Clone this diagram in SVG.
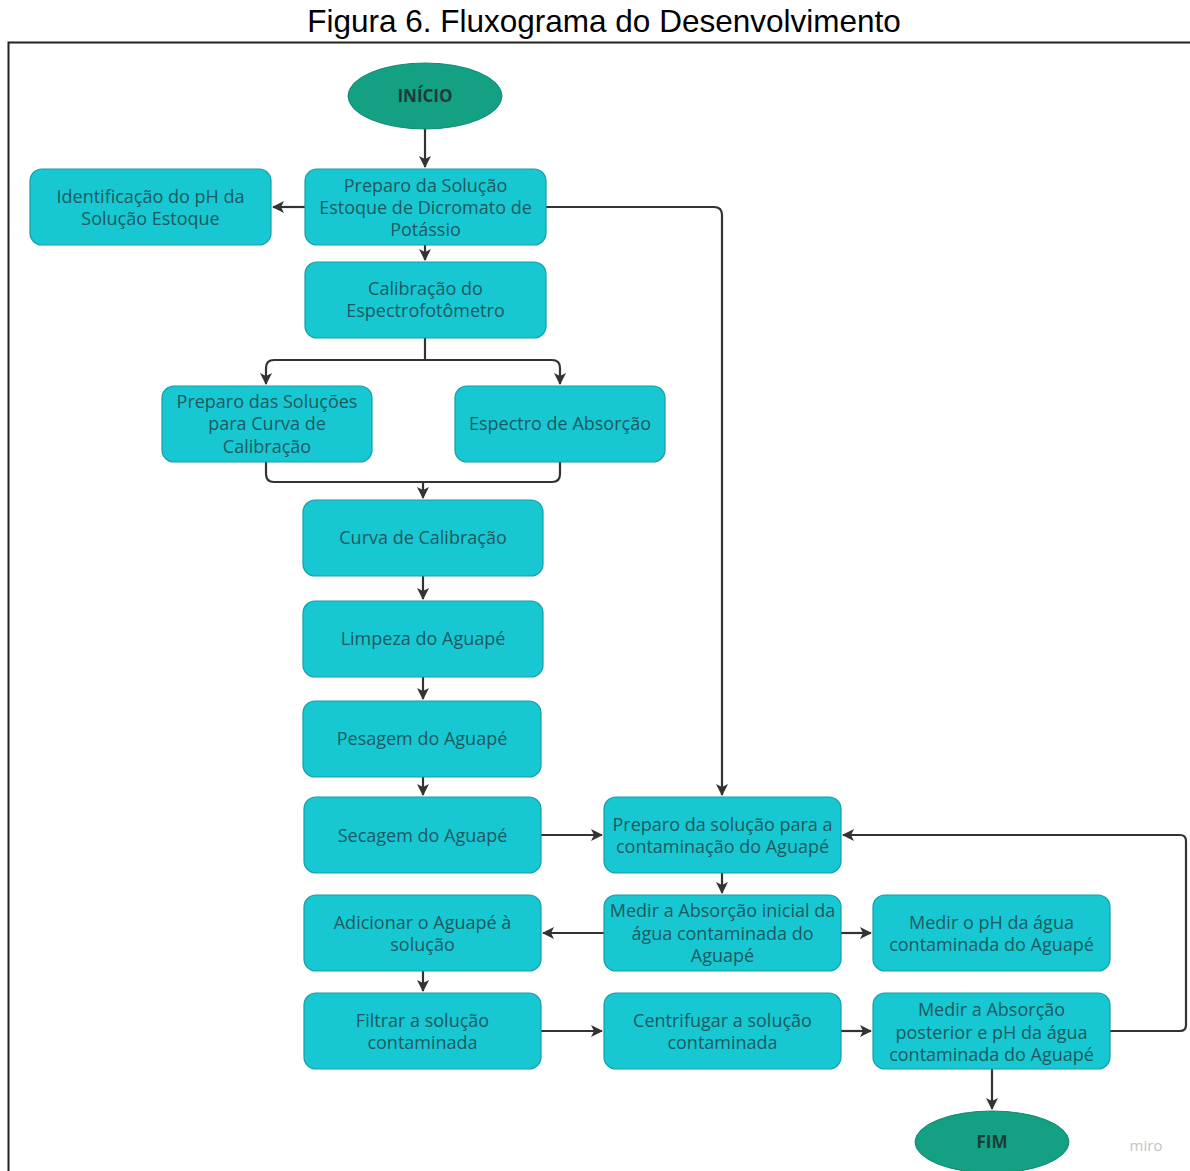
<svg xmlns="http://www.w3.org/2000/svg" width="1190" height="1171" viewBox="0 0 1190 1171">
<style>
.box{fill:#17c8d3;stroke:#139ea8;stroke-width:1.2}
.oval{fill:#14a083;stroke:#118a71;stroke-width:1}
.t{font-family:"Open Sans","Noto Sans",sans-serif;font-size:18px;fill:#1d5a5f;text-anchor:middle}
.b{font-family:"Open Sans","Noto Sans",sans-serif;font-size:17px;font-weight:bold;fill:#1c3b3a;text-anchor:middle}
.c{fill:none;stroke:#333333;stroke-width:2.2;stroke-linejoin:round}
</style>
<defs>
<marker id="ah" viewBox="0 0 12 12" refX="11" refY="6" markerWidth="12" markerHeight="12" markerUnits="userSpaceOnUse" orient="auto">
<path d="M0,0 L12,6 L0,12 L3,6 Z" fill="#333333"/>
</marker>
</defs>
<rect width="1190" height="1171" fill="#ffffff"/>
<text x="604" y="32" font-family="Liberation Sans,Arial,sans-serif" font-size="31.5" text-anchor="middle" fill="#000">Figura 6. Fluxograma do Desenvolvimento</text>
<path d="M8.5,1171 V42.5 H1190" fill="none" stroke="#222" stroke-width="2"/>

<g id="connectors">
<path class="c" d="M425,129 V167" marker-end="url(#ah)"/>
<path class="c" d="M305,207 H273" marker-end="url(#ah)"/>
<path class="c" d="M546,207 H714 Q722,207 722,215 V795" marker-end="url(#ah)"/>
<path class="c" d="M425,245 V260" marker-end="url(#ah)"/>
<path class="c" d="M425,338 V360 H274 Q266,360 266,368 V384" marker-end="url(#ah)"/>
<path class="c" d="M425,360 H552 Q560,360 560,368 V384" marker-end="url(#ah)"/>
<path class="c" d="M266,462 V474 Q266,482 274,482 H552 Q560,482 560,474 V462"/>
<path class="c" d="M423,482 V498" marker-end="url(#ah)"/>
<path class="c" d="M423,576 V599" marker-end="url(#ah)"/>
<path class="c" d="M423,677 V699" marker-end="url(#ah)"/>
<path class="c" d="M423,777 V795" marker-end="url(#ah)"/>
<path class="c" d="M541,835 H602" marker-end="url(#ah)"/>
<path class="c" d="M722,873 V893" marker-end="url(#ah)"/>
<path class="c" d="M604,933 H543" marker-end="url(#ah)"/>
<path class="c" d="M841,933 H871" marker-end="url(#ah)"/>
<path class="c" d="M423,971 V991" marker-end="url(#ah)"/>
<path class="c" d="M541,1031 H602" marker-end="url(#ah)"/>
<path class="c" d="M841,1031 H871" marker-end="url(#ah)"/>
<path class="c" d="M1110,1031 H1180 Q1186,1031 1186,1025 V841 Q1186,835 1180,835 H843" marker-end="url(#ah)"/>
<path class="c" d="M992,1069 V1109" marker-end="url(#ah)"/>
</g>

<g id="inicio"><ellipse class="oval" cx="425" cy="96" rx="77" ry="33"/><text class="b" x="425" y="102">INÍCIO</text></g>
<g id="preparo-estoque"><rect class="box" x="305" y="169" width="241" height="76" rx="12"/><text class="t" x="425.5" y="192">Preparo da Solução</text><text class="t" x="425.5" y="214">Estoque de Dicromato de</text><text class="t" x="425.5" y="236">Potássio</text></g>
<g id="identificacao"><rect class="box" x="30" y="169" width="241" height="76" rx="12"/><text class="t" x="150.5" y="203">Identificação do pH da</text><text class="t" x="150.5" y="225">Solução Estoque</text></g>
<g id="calibracao"><rect class="box" x="305" y="262" width="241" height="76" rx="12"/><text class="t" x="425.5" y="295">Calibração do</text><text class="t" x="425.5" y="317">Espectrofotômetro</text></g>
<g id="preparo-solucoes"><rect class="box" x="162" y="386" width="210" height="76" rx="12"/><text class="t" x="267" y="408">Preparo das Soluções</text><text class="t" x="267" y="430">para Curva de</text><text class="t" x="267" y="453">Calibração</text></g>
<g id="espectro"><rect class="box" x="455" y="386" width="210" height="76" rx="12"/><text class="t" x="560" y="430">Espectro de Absorção</text></g>
<g id="curva"><rect class="box" x="303" y="500" width="240" height="76" rx="12"/><text class="t" x="423" y="544">Curva de Calibração</text></g>
<g id="limpeza"><rect class="box" x="303" y="601" width="240" height="76" rx="12"/><text class="t" x="423" y="645">Limpeza do Aguapé</text></g>
<g id="pesagem"><rect class="box" x="303" y="701" width="238" height="76" rx="12"/><text class="t" x="422" y="745">Pesagem do Aguapé</text></g>
<g id="secagem"><rect class="box" x="304" y="797" width="237" height="76" rx="12"/><text class="t" x="422.5" y="842">Secagem do Aguapé</text></g>
<g id="adicionar"><rect class="box" x="304" y="895" width="237" height="76" rx="12"/><text class="t" x="422.5" y="929">Adicionar o Aguapé à</text><text class="t" x="422.5" y="951">solução</text></g>
<g id="filtrar"><rect class="box" x="304" y="993" width="237" height="76" rx="12"/><text class="t" x="422.5" y="1027">Filtrar a solução</text><text class="t" x="422.5" y="1049">contaminada</text></g>
<g id="preparo-contaminacao"><rect class="box" x="604" y="797" width="237" height="76" rx="12"/><text class="t" x="722.5" y="831">Preparo da solução para a</text><text class="t" x="722.5" y="853">contaminação do Aguapé</text></g>
<g id="medir-inicial"><rect class="box" x="604" y="895" width="237" height="76" rx="12"/><text class="t" x="722.5" y="917">Medir a Absorção inicial da</text><text class="t" x="722.5" y="940">água contaminada do</text><text class="t" x="722.5" y="962">Aguapé</text></g>
<g id="medir-ph"><rect class="box" x="873" y="895" width="237" height="76" rx="12"/><text class="t" x="991.5" y="929">Medir o pH da água</text><text class="t" x="991.5" y="951">contaminada do Aguapé</text></g>
<g id="centrifugar"><rect class="box" x="604" y="993" width="237" height="76" rx="12"/><text class="t" x="722.5" y="1027">Centrifugar a solução</text><text class="t" x="722.5" y="1049">contaminada</text></g>
<g id="medir-posterior"><rect class="box" x="873" y="993" width="237" height="76" rx="12"/><text class="t" x="991.5" y="1016">Medir a Absorção</text><text class="t" x="991.5" y="1039">posterior e pH da água</text><text class="t" x="991.5" y="1061">contaminada do Aguapé</text></g>
<g id="fim"><ellipse class="oval" cx="992" cy="1142" rx="77" ry="31"/><text class="b" x="992" y="1148">FIM</text></g>
<text x="1146" y="1151" font-family="Open Sans,sans-serif" font-size="15" fill="#c4c4c4" text-anchor="middle">miro</text>
</svg>
